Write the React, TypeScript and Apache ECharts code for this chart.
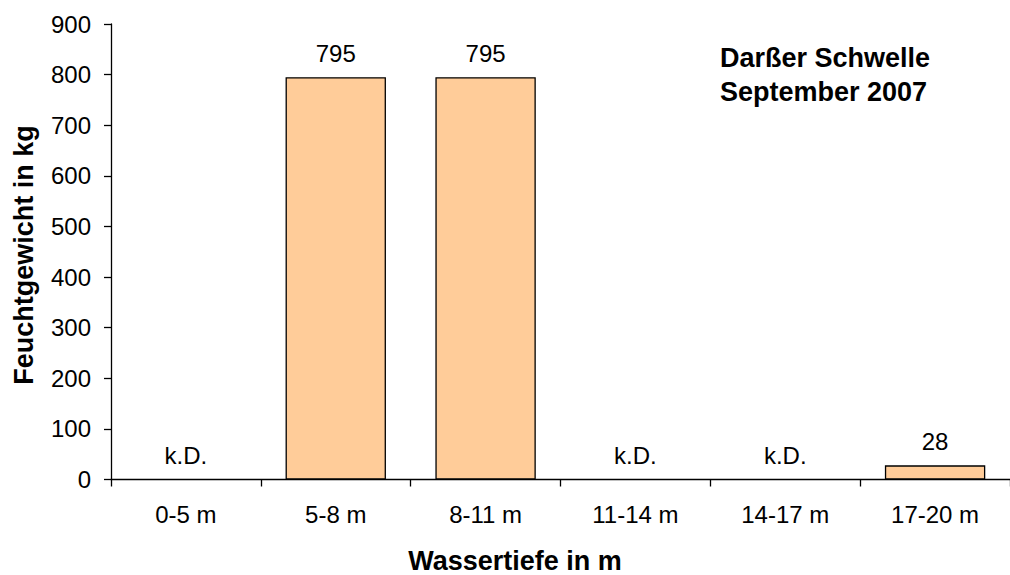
import React, { useEffect, useRef } from "react";
import * as echarts from "echarts";

const categories = ["0-5 m", "5-8 m", "8-11 m", "11-14 m", "14-17 m", "17-20 m"];
const values = [0, 795, 795, 0, 0, 28];
const barLabels = ["k.D.", "795", "795", "k.D.", "k.D.", "28"];
const yTicks = { min: 0, max: 900, interval: 100 };
const titleLines = ["Darßer Schwelle", "September 2007"];
const xTitle = "Wassertiefe in m";
const yTitle = "Feuchtgewicht in kg";

const FONT = "'Liberation Sans', Arial, Helvetica, sans-serif";

export default function App() {
  const ref = useRef<HTMLDivElement>(null);
  useEffect(() => {
    if (!ref.current) return;
    const chart = echarts.init(ref.current, undefined, { renderer: "svg" });
    const barData = values.map((v) =>
      v === 0 ? { value: v, itemStyle: { borderWidth: 0 } } : { value: v }
    );
    chart.setOption({
      animation: false,
      backgroundColor: "#ffffff",
      textStyle: { fontFamily: FONT },
      grid: { left: 111, right: -3, top: 24, bottom: 95.5, containLabel: false },
      xAxis: {
        type: "category",
        data: categories,
        axisLine: { show: true, lineStyle: { color: "#000", width: 1.3 } },
        axisTick: { show: true, length: 7, lineStyle: { color: "#000", width: 1.3 } },
        axisLabel: { color: "#000", fontSize: 24, fontFamily: FONT, margin: 23 },
        splitLine: { show: false },
      },
      yAxis: {
        type: "value",
        min: yTicks.min,
        max: yTicks.max,
        interval: yTicks.interval,
        axisLine: { show: true, lineStyle: { color: "#000", width: 1.3 } },
        axisTick: { show: true, length: 7, lineStyle: { color: "#000", width: 1.3 } },
        axisLabel: { color: "#000", fontSize: 24, fontFamily: FONT, margin: 20 },
        splitLine: { show: false },
      },
      series: [
        {
          type: "bar",
          data: barData,
          barCategoryGap: "33%",
          itemStyle: { color: "#FFCC99", borderColor: "#000", borderWidth: 1.3 },
          label: {
            show: true,
            position: "top",
            distance: 12,
            color: "#000",
            fontSize: 24,
            fontFamily: FONT,
            formatter: (p: any) => barLabels[p.dataIndex],
          },
        },
      ],
      graphic: [
        {
          type: "text",
          left: 720,
          top: 41,
          style: {
            text: titleLines.join("\n"),
            font: `bold 27px ${FONT}`,
            lineHeight: 34,
            fill: "#000",
            align: "left",
          },
        },
        {
          type: "text",
          x: 515,
          y: 561,
          style: {
            text: xTitle,
            font: `bold 27px ${FONT}`,
            fill: "#000",
            align: "center",
            verticalAlign: "middle",
          },
        },
        {
          type: "text",
          x: 24,
          y: 255,
          rotation: Math.PI / 2,
          style: {
            text: yTitle,
            font: `bold 27px ${FONT}`,
            fill: "#000",
            align: "center",
            verticalAlign: "middle",
          },
        },
      ],
    });
    return () => chart.dispose();
  }, []);
  return (
    <div
      ref={ref}
      style={{ position: "absolute", left: 0, top: 0, width: 1010, height: 575 }}
    />
  );
}
